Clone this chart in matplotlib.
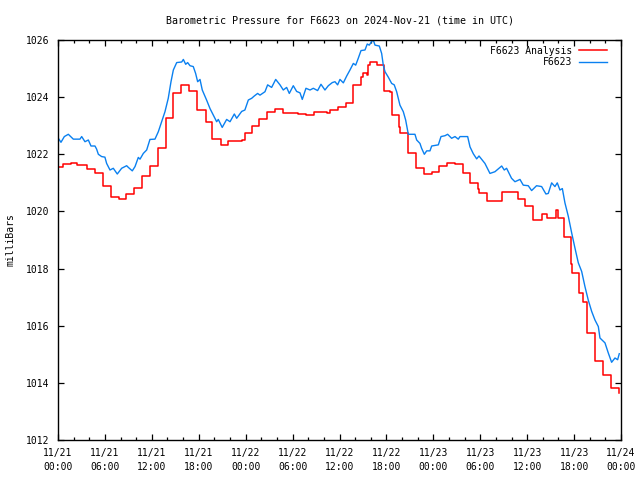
import datetime as dt
import matplotlib
matplotlib.use("Agg")
import matplotlib.pyplot as plt
from matplotlib.ticker import MultipleLocator

# hours since 2024-11-21 00:00 UTC
start = dt.datetime(2024, 11, 21, 0, 0)

# F6623 Analysis (stepped, red): change points
analysis_hours = [0.0, 0.7, 1.66, 2.39, 3.67, 4.73, 5.8, 6.78, 7.8, 8.7, 9.72, 10.7,
                  11.76, 12.75, 13.77, 14.66, 15.73, 16.75, 17.73, 18.9, 19.65, 20.8,
                  21.7, 23.5, 23.9, 24.85, 25.75, 26.77, 27.75, 28.8, 30.65, 31.7, 32.8,
                  34.35, 34.8, 35.85, 36.8, 37.77, 38.75, 39.05, 39.55, 39.7, 39.9, 40.75,
                  41.73, 42.45, 42.75, 43.6, 43.73, 44.72, 45.74, 46.85, 47.8, 48.72,
                  49.7, 50.77, 51.83, 52.7, 53.67, 53.84, 54.82, 56.74, 58.78, 59.72,
                  60.78, 61.85, 62.5, 63.68, 63.9, 64.75, 65.6, 65.7, 66.67, 67.18,
                  67.7, 68.67, 69.65, 70.7, 71.78]
analysis_mb = [1021.54, 1021.65, 1021.69, 1021.63, 1021.50, 1021.33, 1020.90, 1020.49,
               1020.42, 1020.60, 1020.81, 1021.25, 1021.60, 1022.21, 1023.26, 1024.13,
               1024.43, 1024.22, 1023.55, 1023.12, 1022.52, 1022.32, 1022.46, 1022.50,
               1022.76, 1023.00, 1023.22, 1023.47, 1023.58, 1023.46, 1023.41, 1023.37,
               1023.48, 1023.46, 1023.56, 1023.64, 1023.81, 1024.43, 1024.72, 1024.86,
               1024.76, 1025.12, 1025.24, 1025.12, 1024.23, 1024.18, 1023.37, 1022.94,
               1022.73, 1022.03, 1021.53, 1021.31, 1021.39, 1021.60, 1021.70, 1021.65,
               1021.33, 1020.98, 1020.80, 1020.66, 1020.38, 1020.67, 1020.42, 1020.19,
               1019.70, 1019.90, 1019.77, 1020.05, 1019.77, 1019.10, 1018.16, 1017.83,
               1017.13, 1016.84, 1015.73, 1014.77, 1014.27, 1013.83, 1013.63]

# F6623 observations (blue)
obs_hours = [0.04, 0.38, 0.81, 1.32, 1.96, 2.81, 3.03, 3.45, 3.88, 4.22, 4.73, 4.94,
             5.16, 5.58, 6.0, 6.22, 6.65, 7.07, 7.58, 8.14, 8.78, 9.0, 9.5, 9.85, 10.27,
             10.49, 10.91, 11.34, 11.76, 12.4, 12.83, 13.26, 13.68, 14.1, 14.45, 14.75,
             15.18, 15.82, 16.03, 16.33, 16.58, 16.88, 17.3, 17.6, 17.86, 18.16, 18.45,
             19.0, 19.44, 19.86, 20.29, 20.5, 21.0, 21.57, 22.0, 22.55, 22.85, 23.49,
             23.9, 24.34, 24.77, 25.1, 25.53, 25.83, 26.47, 26.81, 27.32, 27.84, 28.39,
             28.81, 29.24, 29.58, 30.09, 30.52, 30.95, 31.24, 31.71, 32.23, 32.65, 33.2,
             33.63, 34.14, 34.57, 35.08, 35.42, 35.76, 36.06, 36.49, 36.92, 37.34,
             37.77, 38.07, 38.4, 38.75, 39.26, 39.55, 39.81, 40.11, 40.32, 40.54, 41.09,
             41.39, 41.6, 41.82, 42.24, 42.67, 43.0, 43.31, 43.73, 44.16, 44.46, 44.8,
             45.65, 45.87, 46.29, 46.5, 46.85, 47.15, 47.57, 47.79, 48.64, 48.98, 49.49,
             49.83, 50.34, 50.77, 51.19, 51.41, 52.39, 52.69, 53.11, 53.54, 53.84, 54.6,
             55.24, 55.88, 56.74, 57.07, 57.37, 58.0, 58.44, 59.08, 59.5, 60.14, 60.57,
             61.2, 61.85, 62.4, 62.7, 63.13, 63.55, 63.85, 64.19, 64.5, 64.83, 65.26,
             65.69, 66.11, 66.54, 66.97, 67.39, 67.81, 68.25, 68.67, 69.1, 69.31, 69.95,
             70.37, 70.8, 71.23, 71.57, 71.78]
obs_mb = [1022.56, 1022.42, 1022.62, 1022.70, 1022.53, 1022.53, 1022.62, 1022.44,
          1022.50, 1022.29, 1022.29, 1022.18, 1022.00, 1021.92, 1021.90, 1021.68,
          1021.45, 1021.51, 1021.31, 1021.51, 1021.60, 1021.54, 1021.42, 1021.57,
          1021.89, 1021.83, 1022.03, 1022.15, 1022.52, 1022.53, 1022.79, 1023.14,
          1023.49, 1023.96, 1024.54, 1024.95, 1025.21, 1025.23, 1025.32, 1025.15,
          1025.21, 1025.10, 1025.07, 1024.83, 1024.54, 1024.62, 1024.25, 1023.90,
          1023.60, 1023.37, 1023.14, 1023.22, 1022.94, 1023.22, 1023.14, 1023.41,
          1023.26, 1023.50, 1023.55, 1023.90, 1023.96, 1024.04, 1024.13, 1024.07,
          1024.19, 1024.43, 1024.34, 1024.62, 1024.43, 1024.25, 1024.34, 1024.13,
          1024.40, 1024.20, 1024.15, 1023.92, 1024.31, 1024.25, 1024.31, 1024.23,
          1024.45, 1024.25, 1024.40, 1024.51, 1024.54, 1024.43, 1024.62, 1024.50,
          1024.74, 1024.95, 1025.18, 1025.12, 1025.36, 1025.63, 1025.65, 1025.86,
          1025.82, 1025.95, 1026.00, 1025.82, 1025.79, 1025.53, 1025.12, 1024.89,
          1024.70, 1024.48, 1024.43, 1024.19, 1023.72, 1023.49, 1023.20, 1022.70,
          1022.70, 1022.50, 1022.38, 1022.21, 1022.00, 1022.12, 1022.12, 1022.29,
          1022.33, 1022.62, 1022.65, 1022.70, 1022.56, 1022.62, 1022.53, 1022.62,
          1022.62, 1022.26, 1022.02, 1021.84, 1021.94, 1021.68, 1021.33, 1021.39,
          1021.59, 1021.45, 1021.51, 1021.16, 1021.04, 1021.12, 1020.92, 1020.90,
          1020.73, 1020.90, 1020.87, 1020.61, 1020.63, 1021.00, 1020.87, 1021.00,
          1020.75, 1020.80, 1020.30, 1019.83, 1019.25, 1018.72, 1018.20, 1017.90,
          1017.37, 1016.90, 1016.50, 1016.20, 1015.97, 1015.57, 1015.40, 1015.05,
          1014.72, 1014.87, 1014.81, 1015.02]

plt.rcParams['font.family'] = ['DejaVu Sans Mono']
plt.rcParams['font.size'] = 7

fig = plt.figure(figsize=(6.4, 4.8), dpi=100)
ax = fig.add_axes([58 / 640, 40 / 480, (621 - 58) / 640, 400 / 480])

ax.plot(analysis_hours, analysis_mb, drawstyle='steps-post', color='#ff0000',
        lw=1.1, label='F6623 Analysis')
ax.plot(obs_hours, obs_mb, color='#0a80f0', lw=1.0, label='F6623')

ax.set_xlim(0, 72)
ax.set_ylim(1012, 1026)
ax.xaxis.set_minor_locator(MultipleLocator(2))
ax.yaxis.set_major_locator(MultipleLocator(2))

xt = list(range(0, 73, 6))
ax.set_xticks(xt)
ax.set_xticklabels([(start + dt.timedelta(hours=h)).strftime('%m/%d\n%H:%M') for h in xt],
                   linespacing=1.45)

ax.tick_params(which='both', direction='in', top=True, right=True, color='black')
ax.tick_params(which='major', length=4, width=0.9)
ax.tick_params(axis='x', which='major', pad=6)
ax.tick_params(axis='y', which='major', pad=6)
ax.tick_params(which='minor', length=2, width=0.9)
for s in ax.spines.values():
    s.set_linewidth(1.0)

ax.set_title('Barometric Pressure for F6623 on 2024-Nov-21 (time in UTC)',
             fontsize=7.2, pad=12)
ax.set_ylabel('milliBars', fontsize=7, labelpad=8)

ax.legend(loc='upper right', bbox_to_anchor=(0.985, 1.0), frameon=False,
          markerfirst=False, handlelength=2.9, handletextpad=0.6,
          borderaxespad=0.2, labelspacing=0.15, fontsize=7)

fig.savefig('out.png', dpi=100)
